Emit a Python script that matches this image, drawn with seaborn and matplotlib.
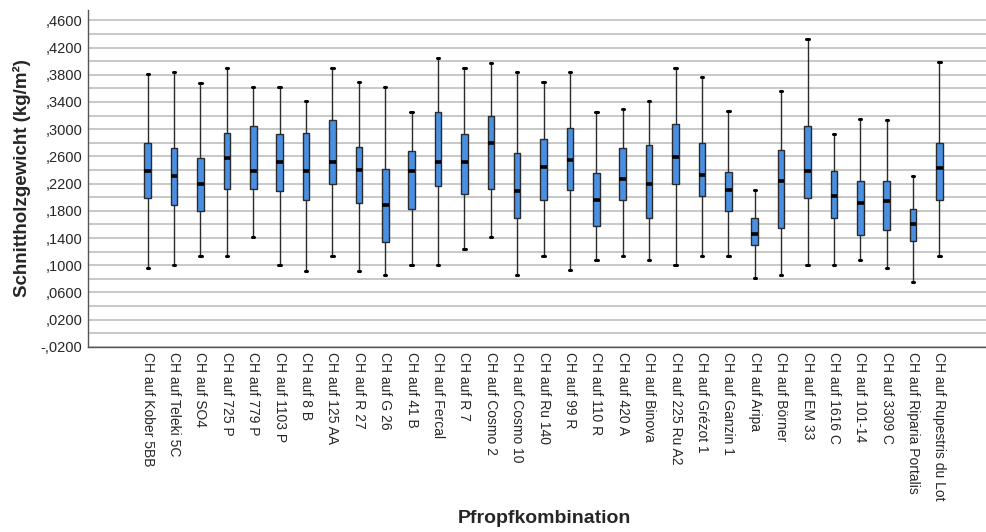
import numpy as np
import pandas as pd
import matplotlib
matplotlib.use("Agg")
import matplotlib.pyplot as plt
from matplotlib.ticker import FuncFormatter
import seaborn as sns

categories = [
    "CH auf Kober 5BB", "CH auf Teleki 5C", "CH auf SO4", "CH auf 725 P",
    "CH auf 779 P", "CH auf 1103 P", "CH auf 8 B", "CH auf 125 AA",
    "CH auf R 27", "CH auf G 26", "CH auf 41 B", "CH auf Fercal",
    "CH auf R 7", "CH auf Cosmo 2", "CH auf Cosmo 10", "CH auf Ru 140",
    "CH auf 99 R", "CH auf 110 R", "CH auf 420 A", "CH auf Binova",
    "CH auf 225 Ru A2", "CH auf Grézot 1", "CH auf Ganzin 1", "CH auf Aripa",
    "CH auf Börner", "CH auf EM 33", "CH auf 1616 C", "CH auf 101-14",
    "CH auf 3309 C", "CH auf Riparia Portalis", "CH auf Rupestris du Lot",
]
whisker_low = [0.096, 0.101, 0.113, 0.113, 0.141, 0.101, 0.092, 0.113,
               0.092, 0.085, 0.101, 0.101, 0.124, 0.141, 0.085, 0.113,
               0.093, 0.107, 0.113, 0.107, 0.101, 0.113, 0.113, 0.081,
               0.086, 0.101, 0.101, 0.107, 0.096, 0.075, 0.113]
q1 = [0.199, 0.189, 0.180, 0.212, 0.212, 0.209, 0.196, 0.219,
      0.191, 0.134, 0.182, 0.216, 0.205, 0.212, 0.169, 0.196,
      0.210, 0.158, 0.196, 0.169, 0.219, 0.202, 0.179, 0.129,
      0.155, 0.199, 0.169, 0.144, 0.152, 0.135, 0.196]
median = [0.238, 0.231, 0.219, 0.258, 0.238, 0.252, 0.238, 0.252,
          0.240, 0.188, 0.238, 0.252, 0.252, 0.279, 0.209, 0.245,
          0.255, 0.196, 0.227, 0.219, 0.259, 0.232, 0.210, 0.146,
          0.224, 0.238, 0.202, 0.191, 0.194, 0.160, 0.243]
q3 = [0.280, 0.273, 0.258, 0.294, 0.304, 0.293, 0.294, 0.313,
      0.274, 0.241, 0.268, 0.325, 0.293, 0.320, 0.265, 0.285,
      0.301, 0.235, 0.273, 0.276, 0.307, 0.279, 0.237, 0.169,
      0.270, 0.304, 0.239, 0.224, 0.224, 0.183, 0.280]
whisker_high = [0.381, 0.384, 0.368, 0.390, 0.362, 0.362, 0.341, 0.390,
                0.370, 0.362, 0.325, 0.404, 0.390, 0.397, 0.384, 0.370,
                0.384, 0.325, 0.329, 0.341, 0.390, 0.376, 0.327, 0.210,
                0.356, 0.432, 0.293, 0.315, 0.313, 0.231, 0.399]

rows = []
for i, c in enumerate(categories):
    for v in (whisker_low[i], q1[i], median[i], q3[i], whisker_high[i]):
        rows.append({"Pfropfkombination": c, "value": v})
df = pd.DataFrame(rows)

sns.set_style("white")
plt.rcParams["font.family"] = ["Liberation Sans", "DejaVu Sans"]

fig = plt.figure(figsize=(9.87, 5.32), dpi=100)
ax = fig.add_axes([0.0892, 0.348, 0.9108, 0.633])

sns.boxplot(
    data=df, x="Pfropfkombination", y="value", order=categories,
    whis=(0, 100), width=0.25, color="#4a90e2", saturation=1,
    linecolor="#2b2b2b", linewidth=1.0, showfliers=False,
    medianprops=dict(color="black", linewidth=2.6),
    ax=ax, zorder=3,
)

# shorten whisker caps
for cont in ax.containers:
    try:
        for cap in cont.caps:
            xd = cap.get_xdata()
            mid = (xd[0] + xd[1]) / 2
            cap.set_xdata([mid - 0.045, mid + 0.045])
            cap.set_linewidth(2.2)
            cap.set_color("black")
    except Exception:
        pass

ax.set_ylim(-0.02, 0.475)
ax.set_xlim(-2.26, 31.8)
ax.yaxis.set_major_formatter(FuncFormatter(
    lambda v, p: f"{v:.4f}".replace("0.", ",", 1)))
ax.set_yticks(np.arange(-0.02, 0.4601, 0.04))
ax.set_yticks(np.arange(-0.02, 0.4601, 0.02), minor=True)
ax.grid(True, axis="y", which="both", color="#c8c8c8", linewidth=1.4, zorder=0)
ax.set_axisbelow(True)

ax.tick_params(axis="y", which="both", length=0, pad=4, labelsize=10.5)
ax.tick_params(axis="x", length=0, pad=4, labelsize=10)
ax.set_xticks(range(len(categories)))
ax.set_xticklabels(categories, rotation=-90, va="top", ha="center")

for s in ["top", "right"]:
    ax.spines[s].set_visible(False)
ax.spines["left"].set_color("#555555")
ax.spines["bottom"].set_color("#555555")
ax.spines["left"].set_linewidth(1.0)
ax.spines["bottom"].set_linewidth(1.0)

ax.set_ylabel("Schnittholzgewicht (kg/m²)", fontsize=13.5, fontweight="bold", labelpad=7)
ax.set_xlabel("Pfropfkombination", fontsize=14, fontweight="bold")
ax.xaxis.set_label_coords(0.508, -0.484)

fig.savefig("out.png", dpi=100)
